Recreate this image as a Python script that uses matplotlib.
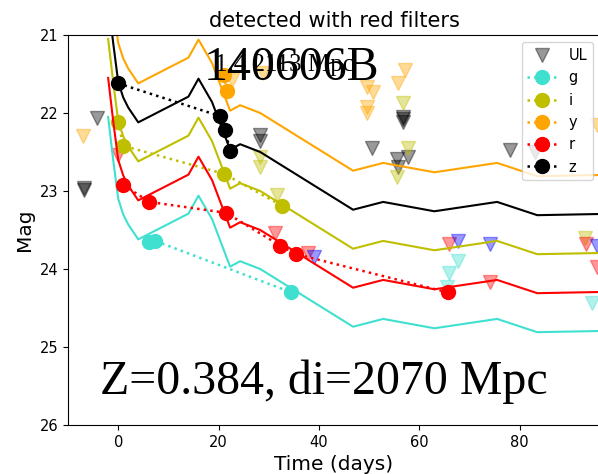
import numpy as np
import matplotlib.pyplot as plt

# model template (z band), other bands are offsets of it
t_model = [-2, -1, 0, 1, 2, 4, 14, 16, 18.7, 22.3, 24.3, 28.3, 46.8, 52.8, 63, 75.5, 83.5, 100]
z_model = [20.55, 21.1, 21.6, 21.8, 21.93, 22.12, 21.79, 21.56, 21.86, 22.47, 22.40, 22.50,
           23.24, 23.14, 23.26, 23.14, 23.31, 23.29]
bands = ['g', 'i', 'y', 'r', 'z']
colors = {'g': 'turquoise', 'i': 'y', 'y': 'orange', 'r': 'red', 'z': 'black'}
offsets = {'y': -0.5, 'z': 0.0, 'i': 0.5, 'r': 1.0, 'g': 1.5}

# detections
det_t = {'g': [6.2, 7.4, 34.5],
         'i': [0.0, 1.0, 21.1, 32.7],
         'y': [21.0, 21.7],
         'r': [1.0, 6.2, 21.5, 32.3, 35.5, 65.7],
         'z': [0.0, 20.3, 21.3, 22.3]}
det_m = {'g': [23.65, 23.64, 24.3],
         'i': [22.11, 22.42, 22.78, 23.19],
         'y': [21.51, 21.72],
         'r': [22.92, 23.14, 23.28, 23.70, 23.81, 24.30],
         'z': [21.62, 22.04, 22.22, 22.49]}

# upper limits
ul_t = {'z': [-4.2, -6.8, -6.8, 28.3, 28.3, 50.6, 55.6, 57.8, 55.8, 56.8, 56.8, 56.8, 78.0, 83.0],
        'i': [28.3, 28.3, 31.7, 56.8, 57.8, 55.6, 93.0],
        'y': [-7.0, 22.7, 28.9, 49.6, 50.8, 49.6, 49.6, 57.2, 55.8, 95.5],
        'r': [0.0, 31.3, 37.8, 66.0, 74.0, 93.2, 95.4],
        'g': [67.8, 66.0, 65.5, 94.4],
        'b': [39.0, 67.8, 74.0, 95.4]}
ul_m = {'z': [22.07, 22.96, 22.99, 22.28, 22.36, 22.45, 22.59, 22.56, 22.69, 22.05, 22.11, 22.08, 22.47, 22.5],
        'i': [22.56, 22.69, 23.05, 21.87, 22.45, 22.82, 23.60],
        'y': [22.30, 21.58, 21.49, 21.67, 21.73, 21.92, 22.00, 21.45, 21.62, 22.15],
        'r': [22.54, 23.54, 23.80, 23.68, 24.17, 23.68, 23.97],
        'g': [23.90, 24.05, 24.23, 24.43],
        'b': [23.85, 23.64, 23.68, 23.70]}
ul_colors = {'z': 'black', 'i': 'y', 'y': 'orange', 'r': 'red', 'g': 'turquoise', 'b': 'blue'}

fig = plt.figure(figsize=(5.98, 4.74), dpi=100)
ax = fig.add_axes([68 / 598, 49 / 474, 532 / 598, 390 / 474])

for k in ul_t:
    ax.plot(ul_t[k], ul_m[k], 'v', color=ul_colors[k], alpha=0.4, markersize=10,
            label='UL' if k == 'z' else None, linestyle='none')

for b in bands:
    m = np.array(z_model) + offsets[b]
    ax.plot(t_model, m, '-', color=colors[b], lw=1.5)
    ax.plot(det_t[b], det_m[b], 'o:', color=colors[b], markersize=10, lw=1.8, label=b)

ax.set_xlim(-10, 96)
ax.set_ylim(26, 21)
ax.set_yticks([21, 22, 23, 24, 25, 26])
ax.set_xticks([0, 20, 40, 60, 80])
ax.tick_params(labelsize=10.5)
ax.set_xlabel('Time (days)', fontsize=14.5)
ax.set_ylabel('Mag', fontsize=14.5)
ax.set_title('detected with red filters', fontsize=15)

ax.text(0.406, 0.923, '1.4 2113 Mpc', transform=ax.transAxes, ha='center', va='center',
        family='Liberation Serif', fontsize=18)
ax.text(0.421, 0.915, '140606B', transform=ax.transAxes, ha='center', va='center',
        family='Liberation Serif', fontsize=34.5)
ax.text(0.481, 0.11, 'Z=0.384, di=2070 Mpc', transform=ax.transAxes, ha='center', va='center',
        family='Liberation Serif', fontsize=34.5)

ax.legend(loc='upper right', fontsize=10.5)
plt.savefig('out.png')
